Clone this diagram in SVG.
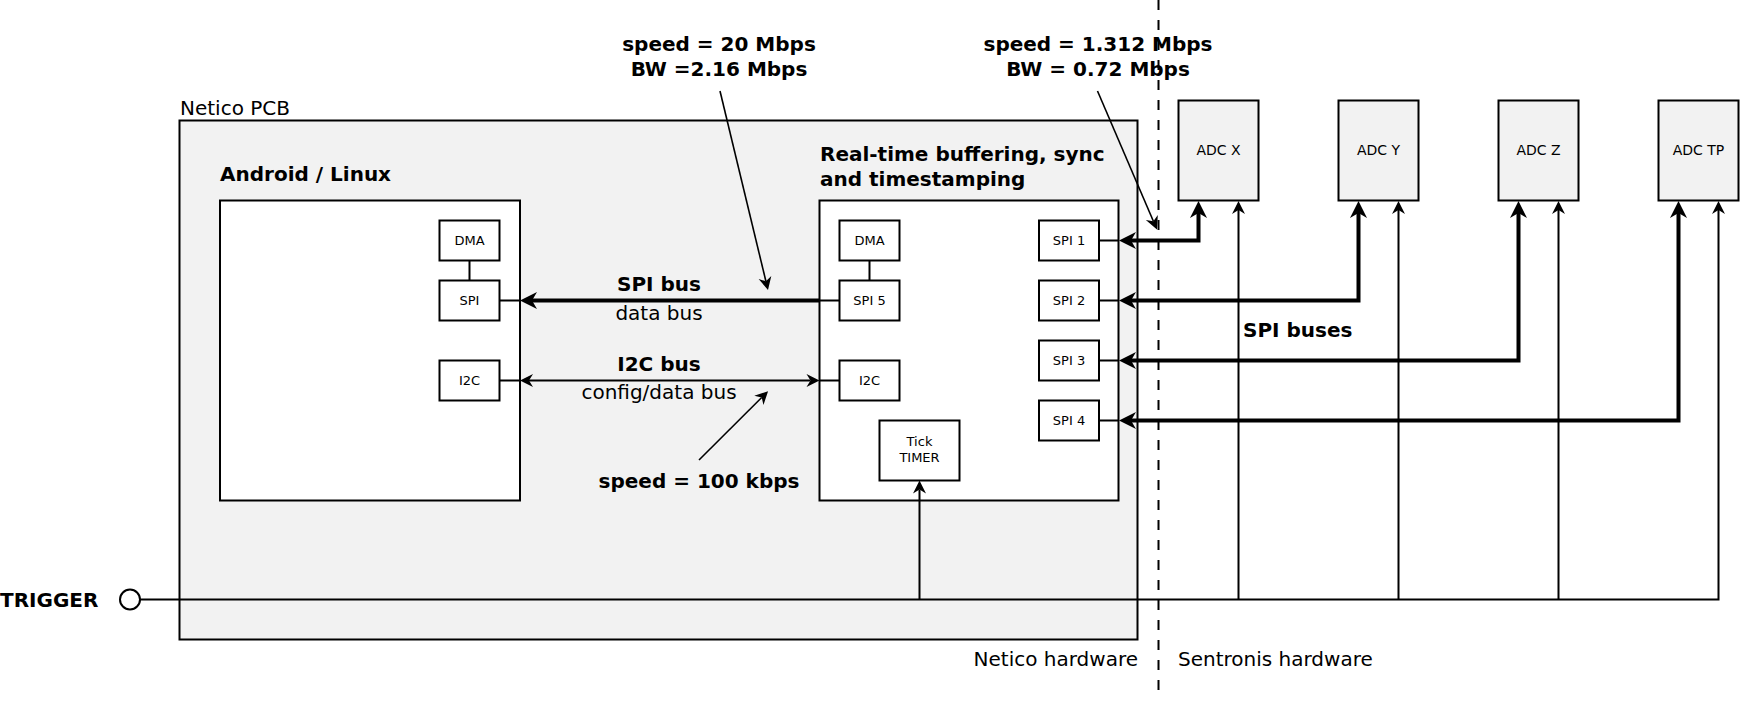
<svg xmlns="http://www.w3.org/2000/svg" width="1740" height="701" viewBox="0 0 1740 701">
<style>
text{font-family:"DejaVu Sans","Liberation Sans",sans-serif;fill:#000}
.t20{font-size:20px}
.b20{font-size:20px;font-weight:bold}
.s13{font-size:13px;text-anchor:middle}
.s14{font-size:14px;text-anchor:middle}
.mid{text-anchor:middle}
.box{fill:#fff;stroke:#000;stroke-width:2}
.grey{fill:#f2f2f2;stroke:#000;stroke-width:2}
.thin{fill:none;stroke:#000;stroke-width:2}
.thick{fill:none;stroke:#000;stroke-width:4}
.call{fill:none;stroke:#000;stroke-width:1.6}
</style>
<defs>
<marker id="aT" viewBox="-6 -9 19 18" refX="0" refY="0" markerWidth="19" markerHeight="18" markerUnits="userSpaceOnUse" orient="auto-start-reverse">
<path d="M12,0 L-5,-8.5 L0,0 L-5,8.5 Z" fill="#000"/>
</marker>
<marker id="as" viewBox="-5 -7 15 14" refX="0" refY="0" markerWidth="15" markerHeight="14" markerUnits="userSpaceOnUse" orient="auto-start-reverse">
<path d="M9,0 L-4,-6.5 L0,0 L-4,6.5 Z" fill="#000"/>
</marker>
</defs>

<g id="netico-pcb">
<rect class="grey" x="179.5" y="120.5" width="958" height="519"/>
<text class="t20" x="180" y="115">Netico PCB</text>
</g>

<g id="android">
<text class="b20" x="220" y="181">Android / Linux</text>
<rect class="box" x="220" y="200.5" width="300" height="300"/>
</g>
<g id="a-dma"><rect class="box" x="439.5" y="220.5" width="60" height="40"/><text class="s13" x="469.5" y="245">DMA</text></g>
<g id="a-spi"><rect class="box" x="439.5" y="280.5" width="60" height="40"/><text class="s13" x="469.5" y="305">SPI</text></g>
<g id="a-i2c"><rect class="box" x="439.5" y="360.5" width="60" height="40"/><text class="s13" x="469.5" y="385">I2C</text></g>

<g id="realtime">
<text class="b20" x="820" y="161">Real-time buffering, sync</text>
<text class="b20" x="820" y="186">and timestamping</text>
<rect class="box" x="819.5" y="200.5" width="299" height="300"/>
</g>
<g id="r-dma"><rect class="box" x="839.5" y="220.5" width="60" height="40"/><text class="s13" x="869.5" y="245">DMA</text></g>
<g id="r-spi5"><rect class="box" x="839.5" y="280.5" width="60" height="40"/><text class="s13" x="869.5" y="305">SPI 5</text></g>
<g id="r-i2c"><rect class="box" x="839.5" y="360.5" width="60" height="40"/><text class="s13" x="869.5" y="385">I2C</text></g>
<g id="tick-timer"><rect class="box" x="879.5" y="420.5" width="80" height="60"/><text class="s13" x="919.5" y="446">Tick</text><text class="s13" x="919.5" y="461.5">TIMER</text></g>
<g id="spi1"><rect class="box" x="1039" y="220.5" width="60" height="40"/><text class="s13" x="1069" y="245">SPI 1</text></g>
<g id="spi2"><rect class="box" x="1039" y="280.5" width="60" height="40"/><text class="s13" x="1069" y="305">SPI 2</text></g>
<g id="spi3"><rect class="box" x="1039" y="340.5" width="60" height="40"/><text class="s13" x="1069" y="365">SPI 3</text></g>
<g id="spi4"><rect class="box" x="1039" y="400.5" width="60" height="40"/><text class="s13" x="1069" y="425">SPI 4</text></g>

<g id="adc-x"><rect class="grey" x="1178.5" y="100.5" width="80" height="100"/><text class="s14" x="1218.5" y="155">ADC X</text></g>
<g id="adc-y"><rect class="grey" x="1338.5" y="100.5" width="80" height="100"/><text class="s14" x="1378.5" y="155">ADC Y</text></g>
<g id="adc-z"><rect class="grey" x="1498.5" y="100.5" width="80" height="100"/><text class="s14" x="1538.5" y="155">ADC Z</text></g>
<g id="adc-tp"><rect class="grey" x="1658.5" y="100.5" width="80" height="100"/><text class="s14" x="1698.5" y="155">ADC TP</text></g>

<g id="trigger">
<text class="b20" x="0" y="607">TRIGGER</text>
<circle cx="130" cy="599.5" r="10" fill="#fff" stroke="#000" stroke-width="2"/>
</g>

<g id="connectors">
<path class="thin" d="M469.5,260.5V280.5 M869.5,260.5V280.5 M499.5,300.5H520 M819.5,300.5H839.5 M499.5,380.5H520 M819.5,380.5H839.5 M1099,240.5H1119 M1099,300.5H1119 M1099,360.5H1119 M1099,420.5H1119"/>
<path class="thick" d="M819.5,300.5H532" marker-end="url(#aT)"/>
<path class="thin" d="M529,380.5H810.5" marker-start="url(#as)" marker-end="url(#as)"/>
<path class="thick" d="M1131,240.5H1198.5V213" marker-start="url(#aT)" marker-end="url(#aT)"/>
<path class="thick" d="M1131,300.5H1358.5V213" marker-start="url(#aT)" marker-end="url(#aT)"/>
<path class="thick" d="M1131,360.5H1518.5V213" marker-start="url(#aT)" marker-end="url(#aT)"/>
<path class="thick" d="M1131,420.5H1678.5V213" marker-start="url(#aT)" marker-end="url(#aT)"/>
<path class="thin" d="M140,599.5H1718.5V210" marker-end="url(#as)"/>
<path class="thin" d="M1238.5,599.5V210" marker-end="url(#as)"/>
<path class="thin" d="M1398.5,599.5V210" marker-end="url(#as)"/>
<path class="thin" d="M1558.5,599.5V210" marker-end="url(#as)"/>
<path class="thin" d="M919.5,599.5V489.5" marker-end="url(#as)"/>
<path class="call" d="M720,91L765.9,281.3" marker-end="url(#as)"/>
<path class="call" d="M1097.5,91L1153.4,221.2" marker-end="url(#as)"/>
<path class="call" d="M699,460L761.7,397.5" marker-end="url(#as)"/>
<path d="M1158.5,0V690" fill="none" stroke="#000" stroke-width="2" stroke-dasharray="10,10"/>
</g>

<g id="labels">
<text class="b20 mid" x="719" y="51">speed = 20 Mbps</text>
<text class="b20 mid" x="719" y="76">BW =2.16 Mbps</text>
<text class="b20 mid" x="1098" y="51">speed = 1.312 Mbps</text>
<text class="b20 mid" x="1098" y="76">BW = 0.72 Mbps</text>
<text class="b20 mid" x="659" y="291">SPI bus</text>
<text class="t20 mid" x="659" y="320">data bus</text>
<text class="b20 mid" x="659" y="371">I2C bus</text>
<text class="t20 mid" x="659" y="399">config/data bus</text>
<text class="b20 mid" x="699" y="488">speed = 100 kbps</text>
<text class="b20" x="1243" y="337">SPI buses</text>
<text class="t20" x="1138" y="666" text-anchor="end">Netico hardware</text>
<text class="t20" x="1178" y="666">Sentronis hardware</text>
</g>
</svg>
